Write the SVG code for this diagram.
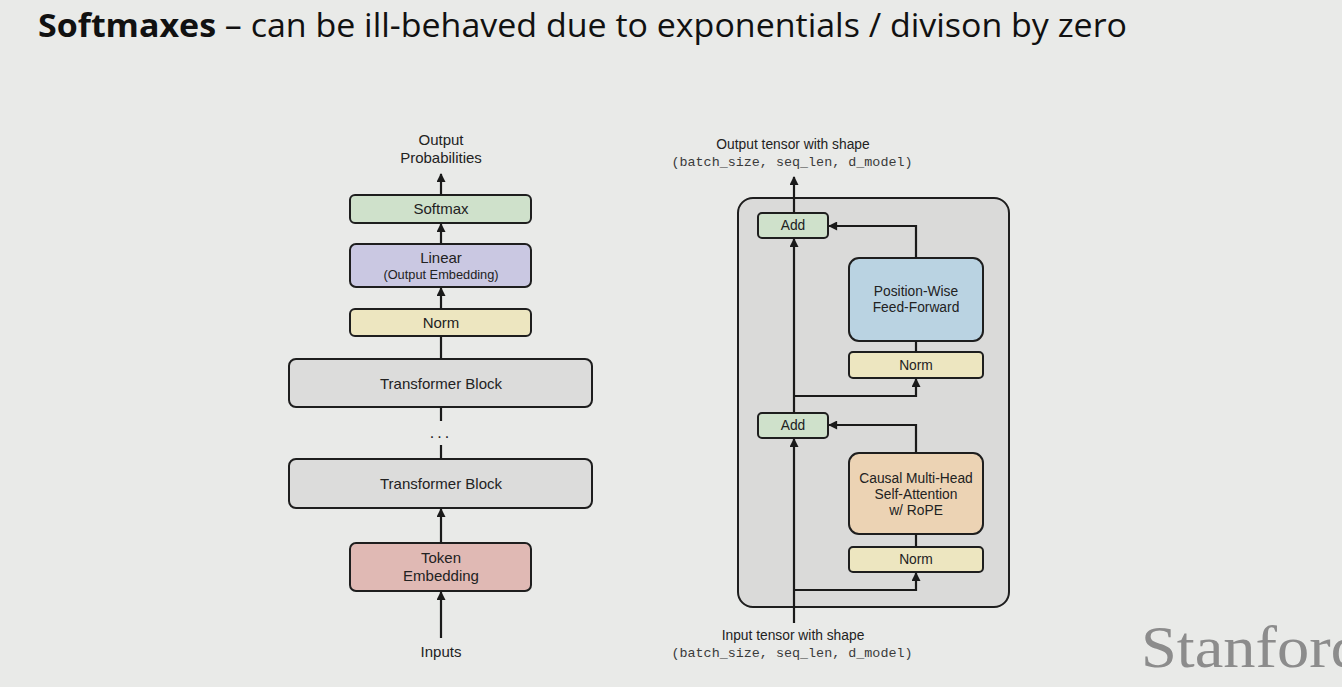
<svg xmlns="http://www.w3.org/2000/svg" width="1342" height="687" viewBox="0 0 1342 687">
<defs>
<marker id="ah" viewBox="0 0 10 10" refX="9" refY="5" markerWidth="10" markerHeight="9" orient="auto-start-reverse" markerUnits="userSpaceOnUse">
<path d="M0,0 L10,5 L0,10 z" fill="#1a1a1a"/>
</marker>
<style>
.bx{stroke:#1e1e1e;stroke-width:2}
.t{font-family:"Liberation Sans",Arial,sans-serif;font-size:15px;fill:#222;text-anchor:middle}
.ts{font-family:"Liberation Sans",Arial,sans-serif;font-size:12.8px;fill:#222;text-anchor:middle}
.tr{font-family:"Liberation Sans",Arial,sans-serif;font-size:13.8px;fill:#222;text-anchor:middle}
.m{font-family:"Liberation Mono","Courier New",monospace;font-size:13.4px;fill:#3a3a3a;text-anchor:middle}
.ln{stroke:#1a1a1a;stroke-width:2.2;fill:none}
.ar{stroke:#1a1a1a;stroke-width:2.2;fill:none;marker-end:url(#ah)}
</style>
</defs>
<rect width="1342" height="687" fill="#e9eae8"/>
<text x="38" y="37" font-family="Open Sans, Lato, sans-serif" font-size="33" fill="#111" textLength="1089" lengthAdjust="spacingAndGlyphs"><tspan font-weight="bold">Softmaxes</tspan><tspan> – can be ill-behaved due to exponentials / divison by zero</tspan></text>
<text x="1141" y="667" font-family="Liberation Serif, serif" font-size="60" fill="#8c8c8c" textLength="222" lengthAdjust="spacingAndGlyphs">Stanford</text>

<g id="left-labels">
<text class="t" x="441" y="145">Output</text>
<text class="t" x="441" y="163">Probabilities</text>
<text class="t" x="441" y="657">Inputs</text>
<text x="441" y="438" font-family="Liberation Sans,sans-serif" font-size="16" fill="#222" text-anchor="middle" letter-spacing="3">...</text>
</g>
<g id="softmax"><rect class="bx" x="350" y="195" width="181" height="28" rx="5" fill="#cfe1cb"/><text class="t" x="441" y="214">Softmax</text></g>
<g id="linear"><rect class="bx" x="350" y="244" width="181" height="43" rx="6" fill="#cac8e2"/><text class="t" x="441" y="263">Linear</text><text class="ts" x="441" y="279">(Output Embedding)</text></g>
<g id="norm-final"><rect class="bx" x="350" y="309" width="181" height="27" rx="5" fill="#ede6c0"/><text class="t" x="441" y="328">Norm</text></g>
<g id="tblock1"><rect class="bx" x="289" y="359" width="303" height="48" rx="7" fill="#dcdcdb"/><text class="t" x="441" y="389">Transformer Block</text></g>
<g id="tblock2"><rect class="bx" x="289" y="459" width="303" height="49" rx="7" fill="#dcdcdb"/><text class="t" x="441" y="489">Transformer Block</text></g>
<g id="token-emb"><rect class="bx" x="350" y="543" width="181" height="48" rx="6" fill="#e0b9b4"/><text class="t" x="441" y="563">Token</text><text class="t" x="441" y="581">Embedding</text></g>

<g id="right-container"><rect x="738" y="198" width="271" height="409" rx="15" fill="#dadad9" stroke="#1e1e1e" stroke-width="2"/></g>
<g id="right-labels">
<text class="tr" x="793" y="149">Output tensor with shape</text>
<text class="m" x="792" y="166">(batch_size, seq_len, d_model)</text>
<text class="tr" x="793" y="640">Input tensor with shape</text>
<text class="m" x="792" y="657">(batch_size, seq_len, d_model)</text>
</g>
<g id="add-top"><rect class="bx" x="758" y="213" width="70" height="25" rx="4" fill="#cfe1cb"/><text class="tr" x="793" y="230">Add</text></g>
<g id="ffn"><rect class="bx" x="849" y="258" width="134" height="83" rx="10" fill="#bad3e2"/><text class="tr" x="916" y="296">Position-Wise</text><text class="tr" x="916" y="312">Feed-Forward</text></g>
<g id="norm-ffn"><rect class="bx" x="849" y="352" width="134" height="26" rx="4" fill="#ede6c0"/><text class="tr" x="916" y="370">Norm</text></g>
<g id="add-bottom"><rect class="bx" x="758" y="413" width="70" height="25" rx="4" fill="#cfe1cb"/><text class="tr" x="793" y="430">Add</text></g>
<g id="attn"><rect class="bx" x="849" y="453" width="134" height="81" rx="10" fill="#ecd3b4"/><text class="tr" x="916" y="483">Causal Multi-Head</text><text class="tr" x="916" y="499">Self-Attention</text><text class="tr" x="916" y="515">w/ RoPE</text></g>
<g id="norm-attn"><rect class="bx" x="849" y="547" width="134" height="25" rx="4" fill="#ede6c0"/><text class="tr" x="916" y="564">Norm</text></g>

<g id="connectors">
<line class="ar" x1="441" y1="195" x2="441" y2="174"/>
<line class="ar" x1="441" y1="244" x2="441" y2="224"/>
<line class="ar" x1="441" y1="309" x2="441" y2="288"/>
<line class="ln" x1="441" y1="359" x2="441" y2="336"/>
<line class="ln" x1="441" y1="407" x2="441" y2="421"/>
<line class="ln" x1="441" y1="445" x2="441" y2="459"/>
<line class="ar" x1="441" y1="543" x2="441" y2="509"/>
<line class="ar" x1="441" y1="638" x2="441" y2="592"/>

<line class="ar" x1="794" y1="213" x2="794" y2="177"/>
<line class="ar" x1="794" y1="413" x2="794" y2="239"/>
<line class="ar" x1="794" y1="623" x2="794" y2="439"/>
<polyline class="ar" points="916,258 916,226 829,226"/>
<polyline class="ar" points="794,396 916,396 916,379"/>
<line class="ln" x1="916" y1="341" x2="916" y2="352"/>
<polyline class="ar" points="916,453 916,425 829,425"/>
<polyline class="ar" points="794,590 916,590 916,573"/>
<line class="ln" x1="916" y1="534" x2="916" y2="547"/>
</g>
</svg>
